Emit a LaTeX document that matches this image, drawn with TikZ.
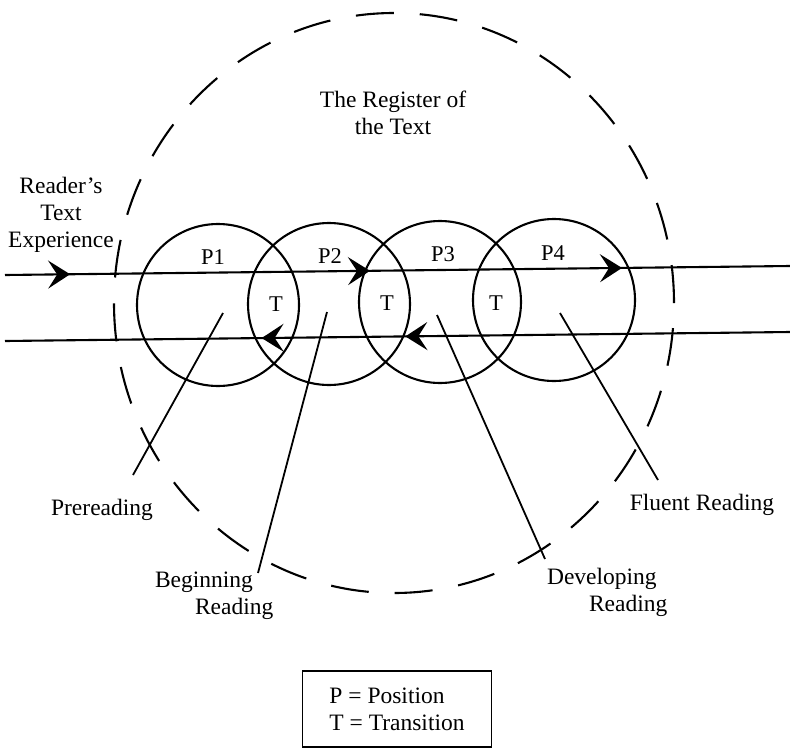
\documentclass[tikz,border=0pt]{standalone}
\usepackage{fontspec}
\setmainfont{Liberation Serif}
\usetikzlibrary{arrows.meta,decorations.markings,shapes.geometric}
\tikzset{tipr/.tip={Stealth[length=22pt,width=28pt,inset=9pt]}}
\begin{document}
\begin{tikzpicture}[x=1pt,y=-1pt,line width=2.1pt,
  txt/.style={font=\fontsize{23.5}{27}\selectfont, inner sep=0pt, align=center},
  lbl/.style={font=\fontsize{22.5}{26}\selectfont, inner sep=0pt},
  posc/.style={circle, draw, minimum size=162pt, inner sep=0pt},
  pointer/.style={line width=1.8pt},
  track/.style={postaction={decorate}}]
\useasboundingbox (0,0) rectangle (790,750);

% register of the text
\node[ellipse, draw, dash pattern=on 38pt off 26pt, minimum width=560pt, minimum height=580pt, inner sep=0pt] (reg) at (394,303) {};

% position circles
\node[posc] (c1) at (218,305) {};
\node[posc] (c2) at (329,304) {};
\node[posc] (c3) at (440,302) {};
\node[posc] (c4) at (554,300) {};

% tracks
\coordinate (u0) at (5,275); \coordinate (u1) at (790,266);
\coordinate (l0) at (5,341); \coordinate (l1) at (790,332);
\draw[track, decoration={markings,
   mark=at position 0.083 with {\arrow{tipr}},
   mark=at position 0.465 with {\arrow{tipr}},
   mark=at position 0.786 with {\arrow{tipr}}}] (u0) -- (u1);
\draw[track, decoration={markings,
   mark=at position 0.327 with {\arrowreversed{tipr}},
   mark=at position 0.510 with {\arrowreversed{tipr}}}] (l0) -- (l1);

% labels in circles
\node[lbl] (p1) at (213,257) {P1};
\node[lbl] (p2) at (330,256) {P2};
\node[lbl] (p3) at (443,254) {P3};
\node[lbl] (p4) at (553,253) {P4};
\node[lbl] (t1) at (276,304) {T};
\node[lbl] (t2) at (387,303) {T};
\node[lbl] (t3) at (496,303) {T};

% pointers
\coordinate (a0) at (223,313); \coordinate (a1) at (133,475);
\coordinate (b0) at (327,312); \coordinate (b1) at (258,573);
\coordinate (d0) at (437,315); \coordinate (d1) at (545,559);
\coordinate (f0) at (560,313); \coordinate (f1) at (658,480);
\draw[pointer] (a0) -- (a1);
\draw[pointer] (b0) -- (b1);
\draw[pointer] (d0) -- (d1);
\draw[pointer] (f0) -- (f1);

% texts
\node[txt] (title) at (393,113) {The Register of\\the Text};
\node[txt] (rte) at (61,215) {Reader’s\\Text\\Experience};
\node[txt] (pre) at (102,510) {Prereading};
\node[txt, anchor=west] (beg1) at (154,582) {Beginning};
\node[txt, anchor=west] (beg2) at (194,609) {Reading};
\node[txt, anchor=west] (dev1) at (546,579) {Developing};
\node[txt, anchor=west] (dev2) at (588,606) {Reading};
\node[txt] (flu) at (702,505) {Fluent Reading};

% legend
\node[draw, line width=1.7pt, txt, align=left, minimum width=189pt, minimum height=76pt] (leg) at (397,709) {P = Position\\T = Transition};
\end{tikzpicture}
\end{document}
